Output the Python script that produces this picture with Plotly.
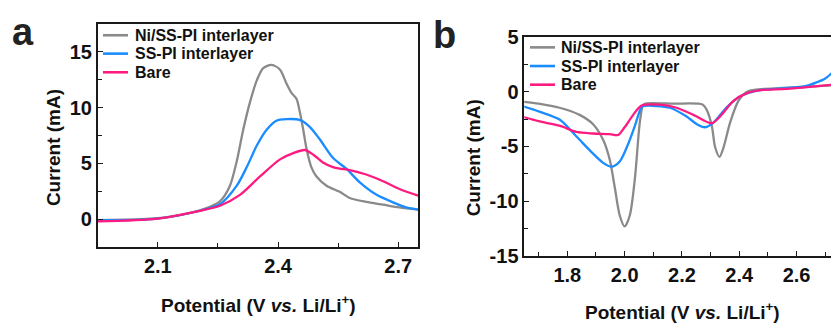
import plotly.graph_objects as go

# ---------------- data ----------------
series_names = ["Ni/SS-PI interlayer", "SS-PI interlayer", "Bare"]
series_colors = ["#8a8a8a", "#1a8cff", "#ff1a80"]

# Panel a (anodic scan)
a_ni_x = [1.95, 2.10, 2.172, 2.205, 2.255, 2.28, 2.297, 2.313, 2.33, 2.347, 2.363, 2.384, 2.405, 2.421, 2.434,
          2.446, 2.454, 2.463, 2.471, 2.483, 2.496, 2.521, 2.554, 2.579, 2.62, 2.662, 2.703, 2.75]
a_ni_y = [-0.1, 0.08, 0.5, 0.78, 1.6, 3.0, 5.2, 8.0, 10.5, 12.45, 13.55, 13.83, 13.4, 12.17, 11.3,
          10.8, 9.67, 8.0, 6.33, 4.67, 3.83, 3.0, 2.45, 1.9, 1.55, 1.3, 1.05, 0.85]
a_ss_x = [1.95, 2.10, 2.205, 2.255, 2.297, 2.322, 2.347, 2.371, 2.396, 2.421, 2.454, 2.479, 2.504, 2.537,
          2.571, 2.604, 2.645, 2.687, 2.72, 2.75]
a_ss_y = [-0.1, 0.05, 0.75, 1.33, 3.0, 4.67, 6.6, 8.0, 8.83, 8.97, 8.9, 8.28, 7.17, 5.5,
          4.5, 3.3, 2.2, 1.5, 1.05, 0.85]
a_bare_x = [1.95, 2.10, 2.205, 2.255, 2.305, 2.355, 2.405, 2.438, 2.467, 2.488, 2.512, 2.537, 2.554, 2.579,
            2.62, 2.662, 2.703, 2.75]
a_bare_y = [-0.2, 0.05, 0.75, 1.2, 2.17, 3.83, 5.36, 5.92, 6.2, 5.78, 5.08, 4.67, 4.53, 4.4,
            4.0, 3.4, 2.7, 2.1]

# Panel b (cathodic scan)
b_ni_x = [1.648, 1.70, 1.773, 1.843, 1.89, 1.925, 1.948, 1.966, 1.983, 2.0, 2.018, 2.036, 2.053, 2.065,
          2.077, 2.17, 2.273, 2.287, 2.304, 2.316, 2.331, 2.345, 2.368, 2.397, 2.427, 2.474, 2.55, 2.64, 2.723]
b_ni_y = [-0.93, -1.1, -1.47, -2.12, -2.97, -4.39, -6.2, -8.8, -11.3, -12.3, -11.3, -7.9, -2.8, -1.19,
          -1.07, -1.1, -1.19, -1.7, -3.1, -5.1, -5.95, -5.1, -2.83, -0.85, 0.0, 0.23, 0.33, 0.45, 0.57]
b_ss_x = [1.648, 1.70, 1.773, 1.832, 1.89, 1.925, 1.954, 1.983, 2.012, 2.036, 2.059, 2.07, 2.158, 2.216,
          2.252, 2.281, 2.31, 2.357, 2.403, 2.474, 2.55, 2.63, 2.67, 2.70, 2.723]
b_ss_y = [-1.36, -1.8, -2.55, -4.1, -5.66, -6.5, -6.85, -6.37, -4.8, -3.1, -1.41, -1.3, -1.47, -2.27,
          -2.97, -3.25, -2.83, -1.41, -0.42, 0.14, 0.3, 0.5, 0.85, 1.2, 1.7]
b_bare_x = [1.648, 1.70, 1.773, 1.832, 1.89, 1.948, 1.977, 2.0, 2.03, 2.059, 2.123, 2.181, 2.24, 2.304,
            2.333, 2.38, 2.427, 2.474, 2.567, 2.723]
b_bare_y = [-2.32, -2.7, -3.11, -3.68, -3.82, -3.88, -3.96, -3.25, -2.12, -1.27, -1.19, -1.47, -2.12, -2.89,
            -2.27, -0.85, -0.14, 0.14, 0.25, 0.62]

a_xticks = [2.1, 2.4, 2.7]
a_yticks = [0, 5, 10, 15]
b_xticks = [1.8, 2.0, 2.2, 2.4, 2.6]
b_yticks = [-15, -10, -5, 0, 5]

x_title = "Potential (V <i>vs.</i> Li/Li<sup>+</sup>)"
y_title = "Current (mA)"

# ---------------- figure ----------------
W, H = 831, 327
FONT = "Liberation Sans, Arial, sans-serif"
AX = "#1a1a1a"

def px_x(p):
    return p / W

def px_y(p):
    return 1 - p / H

fig = go.Figure()

a_data = [(a_ni_x, a_ni_y), (a_ss_x, a_ss_y), (a_bare_x, a_bare_y)]
b_data = [(b_ni_x, b_ni_y), (b_ss_x, b_ss_y), (b_bare_x, b_bare_y)]

for (xs, ys), name, col in zip(a_data, series_names, series_colors):
    fig.add_trace(go.Scatter(x=xs, y=ys, mode="lines", name=name, showlegend=False,
                             line=dict(color=col, width=2.3, shape="spline", smoothing=0.8),
                             xaxis="x", yaxis="y"))
for (xs, ys), name, col in zip(b_data, series_names, series_colors):
    fig.add_trace(go.Scatter(x=xs, y=ys, mode="lines", name=name, showlegend=False,
                             line=dict(color=col, width=2.3, shape="spline", smoothing=0.8),
                             xaxis="x2", yaxis="y2"))

tickfont = dict(family=FONT, size=20, color="#111", weight="bold")
common = dict(showline=True, linecolor=AX, linewidth=1.6, ticks="inside", ticklen=5,
              tickwidth=1.3, tickcolor=AX, showgrid=False, zeroline=False, tickfont=tickfont)

def fmt(v):
    return f"{v:g}"

fig.update_layout(
    width=W, height=H,
    margin=dict(l=0, r=0, t=0, b=0),
    paper_bgcolor="white", plot_bgcolor="white",
    showlegend=False,
    xaxis=dict(domain=[px_x(97.7), px_x(418.3)], range=[1.95, 2.75], tickvals=a_xticks,
               ticktext=[f"{v:.1f}" for v in a_xticks], mirror=True, anchor="y",
               minor=dict(tickvals=[2.25, 2.55], ticks="inside", ticklen=4, tickcolor=AX, tickwidth=1.3),
               **common),
    yaxis=dict(domain=[px_y(253), px_y(14)], range=[-2.5, 17.5], tickvals=a_yticks,
               ticktext=[fmt(v) for v in a_yticks], mirror=True, anchor="x",
               minor=dict(tickvals=[2.5, 7.5, 12.5], ticks="inside", ticklen=4, tickcolor=AX, tickwidth=1.3),
               **common),
    xaxis2=dict(domain=[px_x(524.3), 1.0], range=[1.65, 2.72], tickvals=b_xticks,
                ticktext=[f"{v:.1f}" for v in b_xticks], mirror=True, anchor="y2",
                minor=dict(tickvals=[1.7, 1.9, 2.1, 2.3, 2.5, 2.7], ticks="inside", ticklen=4,
                           tickcolor=AX, tickwidth=1.3),
                **common),
    yaxis2=dict(domain=[px_y(262.7), px_y(27.7)], range=[-15, 5], tickvals=b_yticks,
                ticktext=[fmt(v) for v in b_yticks], mirror=False, anchor="x2",
                minor=dict(tickvals=[-12.5, -7.5, -2.5, 2.5], ticks="inside", ticklen=4, tickcolor=AX,
                           tickwidth=1.3),
                **common),
)

title_font = dict(family=FONT, size=19, color="#111", weight="bold")
ann = [
    dict(text=x_title, x=px_x(258), y=px_y(314), xref="paper", yref="paper", showarrow=False,
         font=title_font, xanchor="center", yanchor="middle"),
    dict(text=x_title, x=px_x(682), y=px_y(322), xref="paper", yref="paper", showarrow=False,
         font=title_font, xanchor="center", yanchor="middle"),
    dict(text=y_title, x=px_x(53), y=px_y(147), xref="paper", yref="paper", showarrow=False,
         font=title_font, textangle=-90, xanchor="center", yanchor="middle"),
    dict(text=y_title, x=px_x(473), y=px_y(158), xref="paper", yref="paper", showarrow=False,
         font=title_font, textangle=-90, xanchor="center", yanchor="middle"),
    dict(text="a", x=px_x(23), y=px_y(22), xref="paper", yref="paper", showarrow=False,
         font=dict(family=FONT, size=38, color="#222", weight="bold"), xanchor="center", yanchor="middle"),
    dict(text="b", x=px_x(444), y=px_y(26), xref="paper", yref="paper", showarrow=False,
         font=dict(family=FONT, size=38, color="#222", weight="bold"), xanchor="center", yanchor="middle"),
]

# manual legends (one per panel)
legend_font = dict(family=FONT, size=16, color="#111", weight="bold")
shapes = []
for (lx0, lx1, tx, rows) in [(103, 128, 133, [26, 45.7, 65.7]), (530, 555, 559, [39, 59, 79])]:
    for name, col, ry in zip(series_names, series_colors, rows):
        shapes.append(dict(type="line", xref="paper", yref="paper", x0=px_x(lx0), x1=px_x(lx1),
                           y0=px_y(ry), y1=px_y(ry), line=dict(color=col, width=2.6)))
        ann.append(dict(text=name, x=px_x(tx), y=px_y(ry), xref="paper", yref="paper", showarrow=False,
                        font=legend_font, xanchor="left", yanchor="middle"))

fig.update_layout(annotations=ann, shapes=shapes)

fig.write_html("out.html")
